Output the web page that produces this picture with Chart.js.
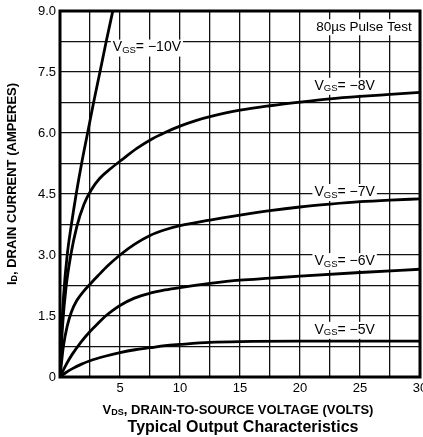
<!DOCTYPE html>
<html>
<head>
<meta charset="utf-8">
<script src="https://cdn.jsdelivr.net/npm/chart.js@4.4.0/dist/chart.umd.min.js"></script>
<style>
  html, body { margin: 0; padding: 0; background: #fff; }
  #wrap { position: relative; width: 423px; height: 437px; }
</style>
</head>
<body>
<div id="wrap"><canvas id="ioChart" width="423" height="437"></canvas></div>
<script>
// drain-source voltage (V) and drain current (A)
var vgs10V = [0, 0.1, 0.3, 0.6, 0.95, 1.35, 1.8, 2.3, 2.8, 3.33, 3.85, 4.4];
var vgs10I = [0, 0.9, 2.0, 3.0, 3.75, 4.5, 5.25, 6.0, 6.75, 7.5, 8.25, 9.0];
var vgs8V = [0, 0.2, 0.5, 0.9, 1.4, 2.0, 2.6, 3.3, 4.2, 5.2, 6.4, 7.7, 8.8, 10, 11.25, 12.5, 15, 17.5, 20, 22.5, 25, 27.5, 30];
var vgs8I = [0, 1.2, 2.2, 3.0, 3.7, 4.25, 4.6, 4.88, 5.12, 5.35, 5.62, 5.86, 6.02, 6.17, 6.3, 6.4, 6.56, 6.67, 6.76, 6.84, 6.9, 6.95, 7.0];
var vgs7V = [0, 0.28, 0.6, 0.95, 1.4, 2.0, 2.5, 3.2, 4.0, 5, 6.2, 7.5, 8.75, 10, 12.5, 15, 17.5, 20, 22.5, 25, 27.5, 30];
var vgs7I = [0, 0.75, 1.25, 1.6, 1.88, 2.12, 2.28, 2.5, 2.74, 3.0, 3.26, 3.48, 3.62, 3.72, 3.86, 3.98, 4.09, 4.18, 4.25, 4.31, 4.35, 4.38];
var vgs6V = [0, 0.5, 1, 1.75, 2.5, 3.2, 3.8, 4.4, 5, 6.2, 7.5, 8.75, 10, 12.5, 15, 17.5, 20, 25, 30];
var vgs6I = [0, 0.3, 0.55, 0.86, 1.12, 1.33, 1.5, 1.64, 1.76, 1.94, 2.06, 2.14, 2.2, 2.3, 2.38, 2.43, 2.48, 2.57, 2.65];
var vgs5V = [0, 0.5, 1, 1.75, 2.5, 3.75, 5, 6.25, 7.5, 8.75, 10, 12.5, 15, 20, 25, 30];
var vgs5I = [0, 0.11, 0.2, 0.31, 0.4, 0.51, 0.6, 0.67, 0.72, 0.77, 0.8, 0.85, 0.87, 0.88, 0.88, 0.88];
var seriesNames = ["VGS=-10V", "VGS=-8V", "VGS=-7V", "VGS=-6V", "VGS=-5V"];

var FONT = "'Liberation Sans', Arial, Helvetica, sans-serif";

function pts(xs, ys) {
  var out = [];
  for (var i = 0; i < xs.length; i++) out.push({ x: xs[i], y: ys[i] });
  return out;
}
function ds(name, xs, ys) {
  return {
    label: name, data: pts(xs, ys), showLine: true, borderColor: "#000",
    borderWidth: 2.8, pointRadius: 0, cubicInterpolationMode: "monotone", fill: false
  };
}

// curve labels, placed in data units
var curveLabels = [
  { v: "10", x: 4.4, y: 8.1 },
  { v: "8", x: 21.2, y: 7.16 },
  { v: "7", x: 21.2, y: 4.55 },
  { v: "6", x: 21.2, y: 2.85 },
  { v: "5", x: 21.2, y: 1.16 }
];

function drawParts(ctx, parts, x, y) {
  var cx = x;
  for (var i = 0; i < parts.length; i++) {
    ctx.font = parts[i][3] + " " + parts[i][1] + "px " + FONT;
    ctx.fillText(parts[i][0], cx, y + parts[i][2]);
    cx += ctx.measureText(parts[i][0]).width;
  }
  return cx - x;
}
function partsWidth(ctx, parts) {
  var w = 0;
  for (var i = 0; i < parts.length; i++) {
    ctx.font = parts[i][3] + " " + parts[i][1] + "px " + FONT;
    w += ctx.measureText(parts[i][0]).width;
  }
  return w;
}

var decor = {
  id: "decor",
  beforeDatasetsDraw: function (chart) {
    var ctx = chart.ctx, xs = chart.scales.x, ys = chart.scales.y;
    ctx.save();
    ctx.textBaseline = "middle";
    curveLabels.forEach(function (l) {
      var parts = [["V", 14, 0, ""], ["GS", 9.5, 3, ""], ["= \u2212" + l.v + "V", 14, 0, ""]];
      var px = xs.getPixelForValue(l.x), py = ys.getPixelForValue(l.y);
      var w = partsWidth(ctx, parts);
      ctx.fillStyle = "#fff";
      ctx.fillRect(px - 2, py - 8, w + 4, 17);
      ctx.fillStyle = "#000";
      drawParts(ctx, parts, px, py);
    });
    // pulse test note
    ctx.font = "13.5px " + FONT;
    var tx = xs.getPixelForValue(21.35), ty = ys.getPixelForValue(8.6);
    var tw = ctx.measureText("80\u00b5s Pulse Test").width;
    ctx.fillStyle = "#fff";
    ctx.fillRect(tx - 2, ty - 8, tw + 4, 16);
    ctx.fillStyle = "#000";
    ctx.fillText("80\u00b5s Pulse Test", tx, ty);
    ctx.restore();
  },
  afterDraw: function (chart) {
    var ctx = chart.ctx, a = chart.chartArea;
    ctx.save();
    ctx.strokeStyle = "#000";
    ctx.lineWidth = 3;
    ctx.strokeRect(a.left, a.top, a.right - a.left, a.bottom - a.top);
    ctx.fillStyle = "#000";
    ctx.textBaseline = "middle";
    // x axis title
    var xp = [["V", 13, 0, "bold"], ["DS", 9, 3, "bold"], [", DRAIN-TO-SOURCE VOLTAGE (VOLTS)", 13, 0, "bold"]];
    var xw = partsWidth(ctx, xp);
    drawParts(ctx, xp, 238 - xw / 2, 410);
    // chart title
    ctx.font = "bold 16px " + FONT;
    ctx.textAlign = "center";
    ctx.fillText("Typical Output Characteristics", 243, 428);
    ctx.textAlign = "left";
    // y axis title
    ctx.translate(12, 184);
    ctx.rotate(-Math.PI / 2);
    var yp = [["I", 13, 0, "bold"], ["D", 9, 3, "bold"], [", DRAIN CURRENT (AMPERES)", 13, 0, "bold"]];
    var yw = partsWidth(ctx, yp);
    drawParts(ctx, yp, -yw / 2, 0);
    ctx.restore();
  }
};

new Chart(document.getElementById("ioChart"), {
  type: "scatter",
  data: {
    datasets: [
      ds(seriesNames[0], vgs10V, vgs10I),
      ds(seriesNames[1], vgs8V, vgs8I),
      ds(seriesNames[2], vgs7V, vgs7I),
      ds(seriesNames[3], vgs6V, vgs6I),
      ds(seriesNames[4], vgs5V, vgs5I)
    ]
  },
  options: {
    responsive: false,
    animation: false,
    layout: { padding: { left: 0, right: 3, top: 11, bottom: 0 } },
    plugins: { legend: { display: false }, tooltip: { enabled: false } },
    scales: {
      x: {
        type: "linear", min: 0, max: 30,
        afterFit: function (s) { s.height = 60; s.paddingLeft = 0; s.paddingRight = 0; },
        grid: { color: "#111", lineWidth: 1.3, drawTicks: false },
        border: { display: false },
        ticks: {
          stepSize: 2.5, padding: 4, color: "#000", autoSkip: false, maxRotation: 0,
          font: { family: FONT, size: 13 },
          callback: function (v) { return (v > 0 && v % 5 === 0) ? String(v) : ""; }
        }
      },
      y: {
        type: "linear", min: 0, max: 9,
        afterFit: function (s) { s.width = 60; s.paddingTop = 0; s.paddingBottom = 0; },
        grid: { color: "#111", lineWidth: 1.3, drawTicks: false },
        border: { display: false },
        ticks: {
          stepSize: 0.75, padding: 4, color: "#000", autoSkip: false,
          font: { family: FONT, size: 13 },
          callback: function (v) {
            if (Math.abs(v / 1.5 - Math.round(v / 1.5)) > 1e-6) return "";
            return v === 0 ? "0" : v.toFixed(1);
          }
        }
      }
    }
  },
  plugins: [decor]
});
</script>
</body>
</html>
